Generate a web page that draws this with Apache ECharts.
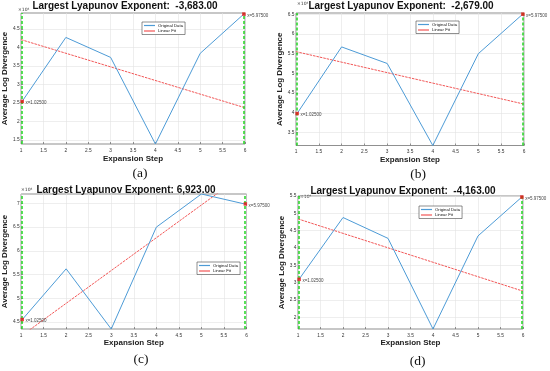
<!DOCTYPE html>
<html><head><meta charset="utf-8">
<script src="https://cdn.jsdelivr.net/npm/echarts@6/dist/echarts.min.js"></script>
<style>html,body{margin:0;padding:0;background:#fff}#c{width:550px;height:371px}</style>
</head><body><div id="c"></div>
<script>
// ---- data ----
const steps = [1, 2, 3, 4, 5, 6];
const xTicks = [1, 1.5, 2, 2.5, 3, 3.5, 4, 4.5, 5, 5.5, 6];
const fitX = [1, 6];
const markX = [1.025, 5.975];
const seriesNames = ['Original Data', 'Linear Fit'];
const titles = ['Largest Lyapunov Exponent:  -3,683.00', 'Largest Lyapunov Exponent:  -2,679.00',
                'Largest Lyapunov Exponent: 6,923.00', 'Largest Lyapunov Exponent:  -4,163.00'];
const panelLabels = ['(a)', '(b)', '(c)', '(d)'];

const origA = [2.50, 4.27, 3.73, 1.39, 3.84, 4.93];
const fitA = [4.21, 2.37];
const markA = [2.54, 4.90];
const yTicksA = [1.5, 2, 2.5, 3, 3.5, 4, 4.5];
const yRangeA = [1.39, 4.93];

const origB = [3.94, 5.67, 5.25, 3.17, 5.50, 6.53];
const fitB = [5.55, 4.22];
const markB = [3.98, 6.50];
const yTicksB = [3.5, 4, 4.5, 5, 5.5, 6, 6.5];
const yRangeB = [3.17, 6.53];

const origC = [4.52, 5.62, 4.35, 6.50, 7.20, 6.98];
const fitC = [4.20, 7.66];
const markC = [4.55, 6.99];
const yTicksC = [4.5, 5, 5.5, 6, 6.5, 7];
const yRangeC = [4.35, 7.20];

const origD = [3.06, 4.88, 4.28, 1.67, 4.35, 5.50];
const fitD = [4.84, 2.76];
const markD = [3.10, 5.47];
const yTicksD = [2, 2.5, 3, 3.5, 4, 4.5, 5, 5.5];
const yRangeD = [1.67, 5.50];

const panels = [
  {orig: origA, fit: fitA, mark: markA, yTicks: yTicksA, yRange: yRangeA},
  {orig: origB, fit: fitB, mark: markB, yTicks: yTicksB, yRange: yRangeB},
  {orig: origC, fit: fitC, mark: markC, yTicks: yTicksC, yRange: yRangeC},
  {orig: origD, fit: fitD, mark: markD, yTicks: yTicksD, yRange: yRangeD}
];

// ---- layout (positions / styles) ----
const layout = [
  {grid: {left: 18, top: 13, width: 227, height: 131}, tx: 125, ty: 1.5, lx: 140, ly: 166.5, xg: 10.5, yg: 10, lgx: 142, lgy: 22, ex: 18, ey: 9.5},
  {grid: {left: 296, top: 13, width: 228, height: 132.5}, tx: 401, ty: 1, lx: 418, ly: 167.5, xg: 10, yg: 9.7, lgx: 416, lgy: 21, ex: 297, ey: 4},
  {grid: {left: 20, top: 194, width: 226.5, height: 135}, tx: 126, ty: 185.5, lx: 141, ly: 352, xg: 9, yg: 10.3, lgx: 197, lgy: 262, ex: 21, ey: 190},
  {grid: {left: 298, top: 196, width: 225, height: 133}, tx: 403, ty: 186.5, lx: 417.5, ly: 354, xg: 8.5, yg: 8.6, lgx: 419, lgy: 206, ex: 300, ey: 196.5}
];

const blue = '#4d9bd6', red = '#f25656', green = '#2fd92f', axisCol = '#333';

const option = {
  animation: false,
  backgroundColor: '#fff',
  title: [], grid: [], xAxis: [], yAxis: [], series: [], legend: [], graphic: []
};

panels.forEach((p, i) => {
  const L = layout[i];
  option.grid.push(Object.assign({show: true, borderColor: '#444', borderWidth: 0.6, backgroundColor: '#fff'}, L.grid));
  option.title.push({text: titles[i], left: L.tx, top: L.ty, textAlign: 'center', padding: 0,
    textStyle: {fontFamily: 'Liberation Sans, Arial', fontSize: 10, fontWeight: 'bold', color: '#111'}});
  option.title.push({text: panelLabels[i], left: L.lx, top: L.ly, textAlign: 'center', padding: 0,
    textStyle: {fontFamily: 'Liberation Serif, Times New Roman, serif', fontSize: 13.5, fontWeight: 'normal', color: '#111'}});
  option.xAxis.push({
    type: 'value', gridIndex: i, min: 1, max: 6, interval: 0.5,
    axisLine: {show: false},
    axisTick: {inside: true, length: 2, lineStyle: {color: axisCol, width: 0.5}},
    axisLabel: {fontSize: 4.8, color: axisCol, margin: 4, fontFamily: 'Liberation Sans'},
    splitLine: {show: true, lineStyle: {color: '#e3e3e3', width: 0.6}},
    name: 'Expansion Step', nameLocation: 'middle', nameGap: L.xg,
    nameTextStyle: {fontSize: 8, fontWeight: 'bold', color: '#222', fontFamily: 'Liberation Sans'}
  });
  option.yAxis.push({
    type: 'value', gridIndex: i, min: p.yRange[0], max: p.yRange[1],
    axisLine: {show: false},
    axisTick: {show: true, inside: true, length: 2, customValues: p.yTicks, lineStyle: {color: axisCol, width: 0.5}},
    axisLabel: {customValues: p.yTicks, fontSize: 4.8, color: axisCol, margin: 1.5, fontFamily: 'Liberation Sans'},
    splitLine: {show: true, lineStyle: {color: '#e3e3e3', width: 0.6}},
    name: 'Average Log Divergence', nameLocation: 'middle', nameGap: L.yg,
    nameTextStyle: {fontSize: 8, fontWeight: 'bold', color: '#222', fontFamily: 'Liberation Sans'}
  });
  option.series.push({
    name: seriesNames[0], type: 'line', xAxisIndex: i, yAxisIndex: i,
    data: steps.map((x, j) => [x, p.orig[j]]), symbol: 'none',
    lineStyle: {color: blue, width: 1}, itemStyle: {color: blue}, z: 3
  });
  option.series.push({
    name: seriesNames[1], type: 'line', xAxisIndex: i, yAxisIndex: i, clip: true,
    data: fitX.map((x, j) => [x, p.fit[j]]), symbol: 'none',
    lineStyle: {color: red, width: 1, type: [2.5, 1]}, itemStyle: {color: red}, z: 2
  });
  option.series.push({
    name: 'markers' + i, type: 'scatter', xAxisIndex: i, yAxisIndex: i, clip: false,
    data: markX.map((x, j) => [x, p.mark[j]]), symbol: 'rect', symbolSize: 3.5,
    itemStyle: {color: '#e81010'}, z: 5,
    label: {show: true, position: 'right', distance: 1.5, offset: [0, 1.5], fontSize: 4.5, color: '#111',
      fontFamily: 'Liberation Sans', formatter: (d) => 'x=' + d.value[0].toFixed(5)},
    markLine: {silent: true, symbol: 'none', label: {show: false},
      lineStyle: {color: green, width: 1.6, type: [3, 2]},
      data: markX.map(x => ({xAxis: x}))}
  });
  option.legend.push({
    orient: 'vertical', left: L.lgx, top: L.lgy, data: seriesNames,
    icon: 'rect', itemWidth: 11, itemHeight: 1.2,
    backgroundColor: '#fff', borderColor: '#444', borderWidth: 0.6, padding: [1.5, 2, 1.5, 2],
    itemGap: 1.5,
    textStyle: {fontSize: 4.3, color: '#111', fontFamily: 'Liberation Sans', padding: [0, 0, 0, -2]}
  });
  option.graphic.push({type: 'text', x: L.ex, y: L.ey,
    style: {text: '×10⁴', fontSize: 4.5, fill: '#333', verticalAlign: 'middle', fontFamily: 'DejaVu Sans'}});
});

const chart = echarts.init(document.getElementById('c'), null, {renderer: 'canvas'});
chart.setOption(option);
</script>
</body></html>
